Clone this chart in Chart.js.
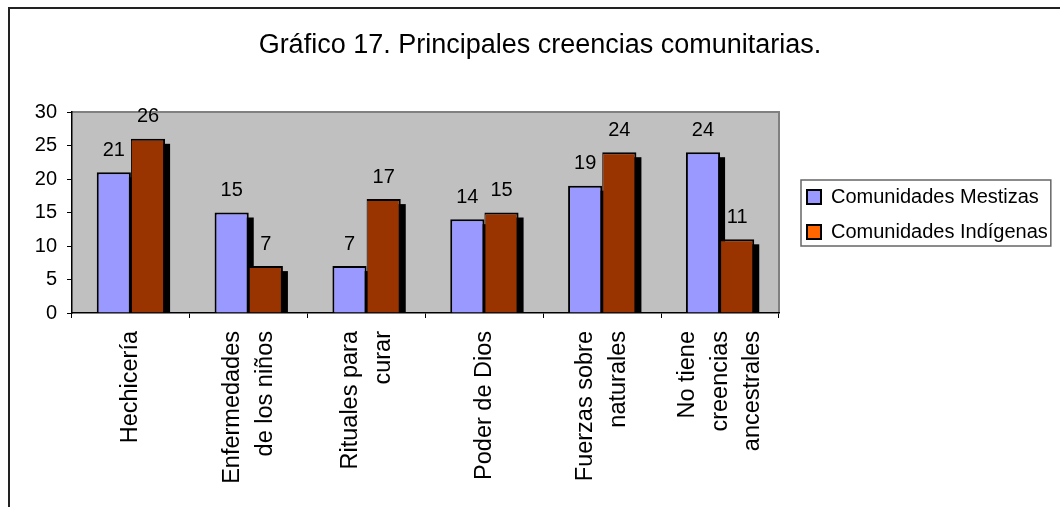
<!DOCTYPE html>
<html><head><meta charset="utf-8">
<script src="https://cdn.jsdelivr.net/npm/chart.js@4.4.1/dist/chart.umd.min.js"></script>
<style>html,body{margin:0;padding:0;background:#fff;}canvas{display:block;}</style>
</head><body>
<canvas id="c" width="1060" height="507"></canvas>
<script>
// ---- data ----
const titleText = "Gráfico 17. Principales creencias comunitarias.";
const categories = [
  "Hechicería",
  ["Enfermedades", "de los niños"],
  ["Rituales para", "curar"],
  "Poder de Dios",
  ["Fuerzas sobre", "naturales"],
  ["No tiene", "creencias", "ancestrales"]
];
const seriesNames = ["Comunidades Mestizas", "Comunidades Indígenas"];
const mestizas = [21, 15, 7, 14, 19, 24];
const indigenas = [26, 7, 17, 15, 24, 11];
const yTicks = [0, 5, 10, 15, 20, 25, 30];

// ---- styles ----
const FONT = "'Liberation Sans', Arial, sans-serif";
const barColors = ["#9999FF", "#993300"];
const legendColors = ["#9999FF", "#FF6600"];
const X_FONT_SIZE = 23.5, X_LINE_HEIGHT = 1.4;

Chart.defaults.font.family = FONT;
Chart.defaults.color = "#000";

const bgPlugin = {
  id: "bg",
  beforeDraw(chart) {
    const {ctx, chartArea: a, width, height} = chart;
    ctx.save();
    ctx.fillStyle = "#fff";
    ctx.fillRect(0, 0, width, height);
    ctx.fillStyle = "#C0C0C0";
    ctx.fillRect(a.left, a.top, a.right - a.left, a.bottom - a.top);
    ctx.strokeStyle = "#808080";
    ctx.lineWidth = 2;
    ctx.beginPath();
    ctx.moveTo(a.left, a.top);
    ctx.lineTo(a.right, a.top);
    ctx.lineTo(a.right, a.bottom);
    ctx.stroke();
    // outer frame (left & top visible)
    ctx.strokeStyle = "#222";
    ctx.lineWidth = 2;
    ctx.beginPath();
    ctx.moveTo(9, height);
    ctx.lineTo(9, 8);
    ctx.lineTo(width, 8);
    ctx.stroke();
    ctx.restore();

    // centre multi-line rotated category labels on their tick
    const xs = chart.scales.x;
    const lh = X_FONT_SIZE * X_LINE_HEIGHT;
    xs.getLabelItems().forEach(item => {
      if (item._centred) return;
      const n = Array.isArray(item.label) ? item.label.length : 1;
      item.options.translation[0] -= (n - 1) * lh / 2;
      item._centred = true;
    });
  }
};

const shadowPlugin = {
  id: "shadow",
  beforeDatasetsDraw(chart) {
    const {ctx, chartArea: a} = chart;
    ctx.save();
    ctx.beginPath();
    ctx.rect(a.left, a.top, a.right - a.left, a.bottom - a.top);
    ctx.clip();
    ctx.fillStyle = "#000";
    chart.data.datasets.forEach((ds, di) => {
      chart.getDatasetMeta(di).data.forEach(el => {
        const p = el.getProps(["x", "y", "base", "width"], true);
        ctx.fillRect(p.x - p.width / 2 + 5, p.y + 5, p.width, p.base - p.y);
      });
    });
    ctx.restore();
  }
};

const valuePlugin = {
  id: "values",
  afterDatasetsDraw(chart) {
    const {ctx} = chart;
    ctx.save();
    ctx.font = "20px " + FONT;
    ctx.fillStyle = "#000";
    ctx.textAlign = "center";
    ctx.textBaseline = "middle";
    chart.data.datasets.forEach((ds, di) => {
      chart.getDatasetMeta(di).data.forEach((el, i) => {
        const p = el.getProps(["x", "y"], true);
        ctx.fillText(String(ds.data[i]), p.x, p.y - 22);
      });
    });
    ctx.restore();
  }
};

const adjustPlugin = {
  id: "adjust",
  afterLayout(chart) {
    const lg = chart.legend;
    const a = chart.chartArea;
    if (lg) {
      lg.left = a.right + 13;
      lg.right = chart.width;
      lg.width = lg.right - lg.left;
      lg.top = a.top + 2;
      lg.bottom = a.bottom + 2;
      lg.height = lg.bottom - lg.top;
    }
    const tb = chart.titleBlock;
    if (tb) { tb.left += 14; tb.right += 14; }
  },
  afterDraw(chart) {
    const lg = chart.legend;
    if (!lg || !lg.legendHitBoxes.length) return;
    const hb = lg.legendHitBoxes;
    let l = Infinity, t = Infinity, r = -Infinity, b = -Infinity;
    hb.forEach(h => {
      l = Math.min(l, h.left); t = Math.min(t, h.top);
      r = Math.max(r, h.left + h.width); b = Math.max(b, h.top + h.height);
    });
    const ctx = chart.ctx;
    ctx.save();
    ctx.strokeStyle = "#666";
    ctx.lineWidth = 1.5;
    ctx.strokeRect(l - 6, t - 7, (r + 3) - (l - 6), (b + 4) - (t - 7));
    ctx.restore();
  }
};

new Chart(document.getElementById("c"), {
  type: "bar",
  data: {
    labels: categories,
    datasets: [
      {label: seriesNames[0], data: mestizas, backgroundColor: barColors[0], borderColor: "#000",
       borderWidth: {top: 2, right: 2, bottom: 0, left: 2}, borderSkipped: false},
      {label: seriesNames[1], data: indigenas, backgroundColor: barColors[1], borderColor: "#000",
       borderWidth: {top: 2, right: 2, bottom: 0, left: 1}, borderSkipped: false}
    ]
  },
  options: {
    responsive: false,
    animation: false,
    devicePixelRatio: 1,
    layout: {padding: {left: 20, right: 28, top: 0, bottom: 0}},
    datasets: {bar: {categoryPercentage: 0.58, barPercentage: 1.0}},
    plugins: {
      title: {display: true, text: titleText, color: "#000",
        font: {size: 27, weight: "normal", family: FONT}, padding: {top: 29, bottom: 50.6}},
      legend: {
        position: "right",
        labels: {
          font: {size: 20, family: FONT}, color: "#000", boxWidth: 14, boxHeight: 14, padding: 15,
          generateLabels: (chart) => chart.data.datasets.map((ds, i) => ({
            text: ds.label, fillStyle: legendColors[i], strokeStyle: "#000", lineWidth: 2,
            hidden: false, datasetIndex: i, fontColor: "#000"
          }))
        }
      },
      tooltip: {enabled: false}
    },
    scales: {
      x: {
        grid: {display: true, offset: true, drawOnChartArea: false, drawTicks: true, tickLength: 5, color: "#000", lineWidth: 1},
        border: {display: true, color: "#000", width: 1.5},
        ticks: {minRotation: 90, maxRotation: 90, autoSkip: false, padding: 13, color: "#000",
          font: {size: X_FONT_SIZE, lineHeight: X_LINE_HEIGHT, family: FONT}},
        afterFit: (s) => { s.height = 194; }
      },
      y: {
        min: yTicks[0], max: yTicks[yTicks.length - 1],
        afterBuildTicks: (s) => { s.ticks = yTicks.map(v => ({value: v})); },
        grid: {drawOnChartArea: false, drawTicks: true, tickLength: 5, color: "#000"},
        border: {display: true, color: "#000", width: 1.5},
        ticks: {padding: 10, color: "#000", font: {size: 20, family: FONT}},
        afterFit: (s) => { s.width = 52; }
      }
    }
  },
  plugins: [bgPlugin, shadowPlugin, valuePlugin, adjustPlugin]
});
</script>
</body></html>
